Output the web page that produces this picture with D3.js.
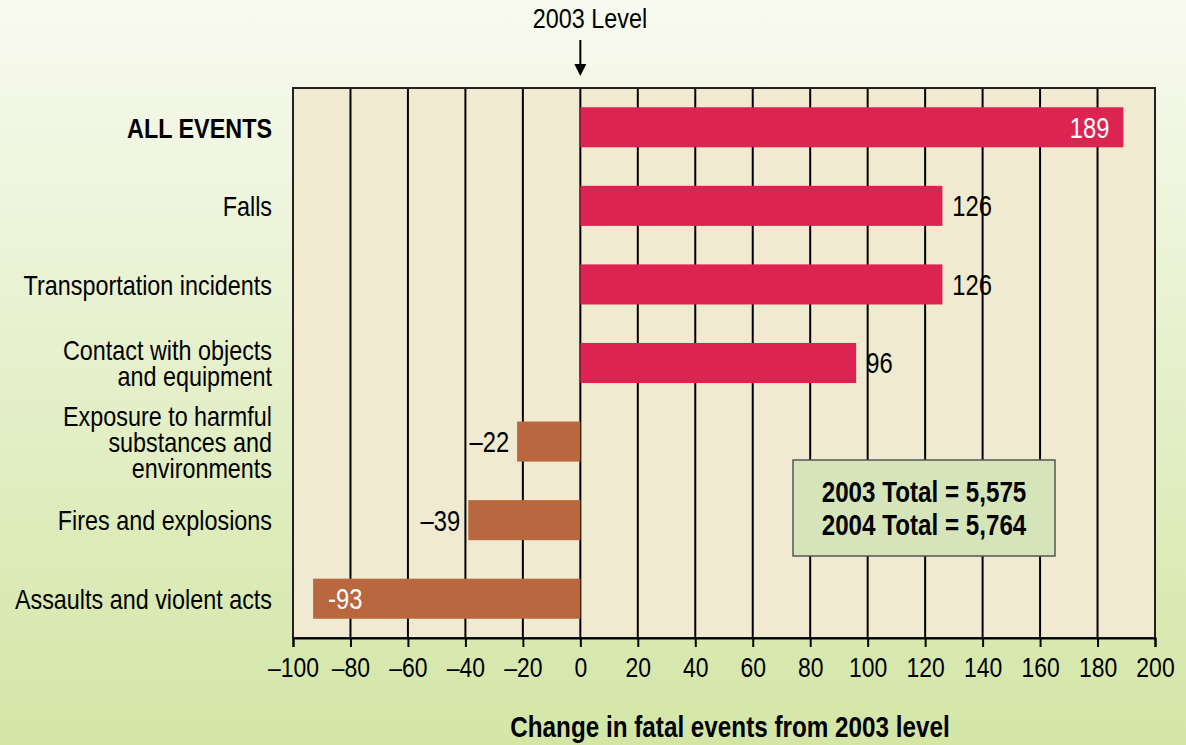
<!DOCTYPE html>
<html>
<head>
<meta charset="utf-8">
<script src="https://cdn.jsdelivr.net/npm/d3@7"></script>
<style>
  body { margin: 0; }
  svg { display: block; font-family: "Liberation Sans", Arial, sans-serif; }
</style>
</head>
<body>
<div id="chart"></div>
<script>
const categories = [
  ["ALL EVENTS"],
  ["Falls"],
  ["Transportation incidents"],
  ["Contact with objects", "and equipment"],
  ["Exposure to harmful", "substances and", "environments"],
  ["Fires and explosions"],
  ["Assaults and violent acts"]
];
const values = [189, 126, 126, 96, -22, -39, -93];
const valueLabels = ["189", "126", "126", "96", "\u201322", "\u201339", "-93"];
const insideLabel = [true, false, false, false, false, false, true];
const xTicks = [-100, -80, -60, -40, -20, 0, 20, 40, 60, 80, 100, 120, 140, 160, 180, 200];
const totals = ["2003 Total = 5,575", "2004 Total = 5,764"];

const W = 1186, H = 745;
const margin = { top: 88, right: 31, bottom: 107, left: 293 };
// the original type is a narrow Helvetica; squeeze Liberation Sans to match
const NARROW = "scale(0.82,1)";

const svg = d3.select("#chart").append("svg")
  .attr("width", W)
  .attr("height", H);

const defs = svg.append("defs");
const grad = defs.append("linearGradient")
  .attr("id", "bg").attr("x1", 0).attr("y1", 0).attr("x2", 0).attr("y2", 1);
grad.append("stop").attr("offset", "0%").attr("stop-color", "#f8faf0");
grad.append("stop").attr("offset", "100%").attr("stop-color", "#d3e6a6");

svg.append("rect").attr("width", W).attr("height", H).attr("fill", "url(#bg)");

const x = d3.scaleLinear()
  .domain([-100, 200])
  .range([margin.left, W - margin.right]);

const y = d3.scaleBand()
  .domain(d3.range(categories.length))
  .range([margin.top, H - margin.bottom])
  .paddingInner(0.49)
  .paddingOuter(0.245);

function narrowText(parent, px, py) {
  return parent.append("g")
    .attr("transform", `translate(${px},${py}) ${NARROW}`)
    .append("text");
}

// plot background
svg.append("rect")
  .attr("x", x(-100)).attr("y", margin.top)
  .attr("width", x(200) - x(-100))
  .attr("height", H - margin.bottom - margin.top)
  .attr("fill", "#f0ebd0");

// gridlines
svg.append("g")
  .selectAll("line")
  .data(xTicks)
  .join("line")
  .attr("x1", d => x(d)).attr("x2", d => x(d))
  .attr("y1", margin.top).attr("y2", H - margin.bottom)
  .attr("stroke", "#000")
  .attr("stroke-width", 2);

// plot border
svg.append("rect")
  .attr("x", x(-100)).attr("y", margin.top)
  .attr("width", x(200) - x(-100))
  .attr("height", H - margin.bottom - margin.top)
  .attr("fill", "none")
  .attr("stroke", "#222")
  .attr("stroke-width", 2);

// bars
svg.append("g")
  .selectAll("rect")
  .data(values)
  .join("rect")
  .attr("x", d => x(Math.min(0, d)))
  .attr("y", (d, i) => y(i))
  .attr("width", d => Math.abs(x(d) - x(0)))
  .attr("height", y.bandwidth())
  .attr("fill", d => d >= 0 ? "#dc2351" : "#b8673f");

// value labels
const valG = svg.append("g");
values.forEach((d, i) => {
  const inside = insideLabel[i];
  let px;
  if (inside) px = d >= 0 ? x(d) - 14 : x(d) + 15;
  else px = d >= 0 ? x(d) + 10 : x(d) - 8;
  narrowText(valG, px, y(i) + y.bandwidth() / 2)
    .attr("dy", "0.36em")
    .attr("text-anchor", (d >= 0) === inside ? "end" : "start")
    .attr("fill", inside ? "#fff" : "#000")
    .style("font-size", "29px")
    .text(valueLabels[i]);
});

// category labels
const catG = svg.append("g");
categories.forEach((lines, i) => {
  const cy = y(i) + y.bandwidth() / 2;
  const lh = 26;
  const t = narrowText(catG, 272, 0)
    .attr("text-anchor", "end")
    .style("font-size", "28.5px")
    .style("font-weight", i === 0 ? "bold" : "normal");
  lines.forEach((ln, j) => {
    t.append("tspan")
      .attr("x", 0)
      .attr("y", cy + (j - (lines.length - 1) / 2) * lh)
      .attr("dy", "0.36em")
      .text(ln);
  });
});

// x axis
const xAxis = svg.append("g")
  .attr("transform", `translate(0, ${H - margin.bottom})`)
  .call(d3.axisBottom(x)
    .tickValues(xTicks)
    .tickSize(9)
    .tickFormat(d => d < 0 ? "\u2013" + Math.abs(d) : d));
xAxis.select(".domain").attr("stroke", "#000").attr("stroke-width", 2);
xAxis.selectAll(".tick line").attr("stroke", "#000").attr("stroke-width", 2);
xAxis.selectAll(".tick text")
  .attr("y", 19)
  .attr("transform", NARROW)
  .attr("fill", "#000")
  .style("font-size", "28px")
  .style("font-family", "\"Liberation Sans\", Arial, sans-serif");

// axis title
narrowText(svg, 730, 737)
  .attr("text-anchor", "middle")
  .style("font-size", "29.6px")
  .style("font-weight", "bold")
  .text("Change in fatal events from 2003 level");

// 2003 level marker
narrowText(svg, 590, 28)
  .attr("text-anchor", "middle")
  .style("font-size", "28.5px")
  .text("2003 Level");
svg.append("line")
  .attr("x1", x(0)).attr("x2", x(0))
  .attr("y1", 40).attr("y2", 66)
  .attr("stroke", "#000").attr("stroke-width", 2);
svg.append("path")
  .attr("d", `M${x(0) - 6},64 L${x(0) + 6},64 L${x(0)},76 Z`)
  .attr("fill", "#000");

// totals box
svg.append("rect")
  .attr("x", 793).attr("y", 460)
  .attr("width", 262).attr("height", 96)
  .attr("fill", "#d5e4b9")
  .attr("stroke", "#555")
  .attr("stroke-width", 1.5);
const totG = svg.append("g");
totals.forEach((d, i) => {
  narrowText(totG, 924, 502 + i * 33)
    .attr("text-anchor", "middle")
    .style("font-size", "29.5px")
    .style("font-weight", "bold")
    .text(d);
});
</script>
</body>
</html>
